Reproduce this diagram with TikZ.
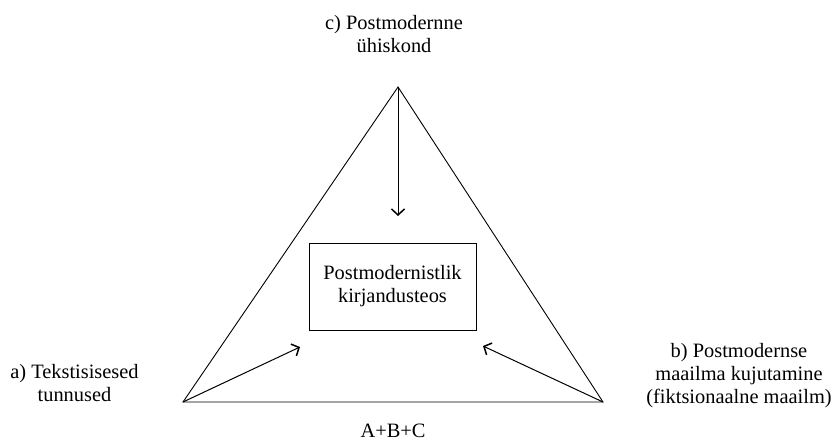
\documentclass[tikz,border=0pt]{standalone}
\usepackage{fontspec}
\setmainfont{Liberation Serif}
\usetikzlibrary{arrows.meta}
\begin{document}
\begin{tikzpicture}[x=1pt,y=-1pt,
  lbl/.style={align=center,inner sep=0pt,font=\fontsize{20.4}{23}\selectfont},
  side/.style={line width=0.9pt,line join=miter},
  arr/.style={line width=1pt,-{Straight Barb[length=6pt,width=13pt,line width=1.5pt]}}]
\useasboundingbox (0,0) rectangle (837,447);
\coordinate (A) at (183,402);
\coordinate (B) at (603,402);
\coordinate (C) at (398,87);
\draw[side] (A) -- (B) -- (C) -- cycle;
\node[draw,line width=0.9pt,minimum width=167pt,minimum height=87pt,lbl] (box) at (392.5,286.5) {Postmodernistlik\\kirjandusteos};
\coordinate (ta) at (300,347);
\coordinate (tb) at (483,346);
\coordinate (tc) at (398,216);
\draw[arr] (A) -- (ta);
\draw[arr] (B) -- (tb);
\draw[arr] (C) -- (tc);
\node[lbl] (lc) at (394,34) {c) Postmodernne\\ühiskond};
\node[lbl] (la) at (74.5,383) {a) Tekstisisesed\\tunnused};
\node[lbl] (lb) at (739,375.5) {b) Postmodernse\\maailma kujutamine\\(fiktsionaalne maailm)};
\node[lbl] (sum) at (393,431) {A+B+C};
\end{tikzpicture}
\end{document}
